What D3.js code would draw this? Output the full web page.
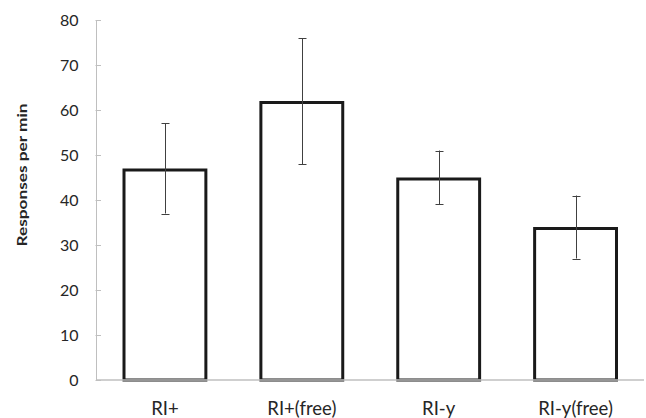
<!DOCTYPE html>
<html><head><meta charset="utf-8">
<script src="https://d3js.org/d3.v7.min.js"></script>
<style>body{margin:0;background:#fff}svg{display:block}</style>
</head><body>
<script>
const categories = ["RI+", "RI+(free)", "RI-y", "RI-y(free)"];
const values = [47, 62, 45, 34];
const errors = [10, 14, 6, 7];
const yTicks = [0, 10, 20, 30, 40, 50, 60, 70, 80];

const W = 646, H = 418;
const m = {left: 96.5, right: 2, top: 20, bottom: 38};
const svg = d3.select("body").append("svg").attr("width", W).attr("height", H);
const x = d3.scaleBand().domain(categories).range([m.left, 644]).paddingInner(0.38).paddingOuter(0.19);
const y = d3.scaleLinear().domain([0, 80]).range([380, 20]);
const font = "Lato, sans-serif";

// y axis
const ya = svg.append("g");
ya.append("line").attr("x1", m.left).attr("x2", m.left).attr("y1", y(80)).attr("y2", y(0)).attr("stroke", "#bfbfbf").attr("stroke-width", 1);
ya.selectAll(".t").data(yTicks).join("line").attr("x1", m.left - 1).attr("x2", m.left + 4.5)
  .attr("y1", d => Math.round(y(d)) + 0.5).attr("y2", d => Math.round(y(d)) + 0.5).attr("stroke", "#bfbfbf");
ya.selectAll("text").data(yTicks).join("text").attr("x", 78.5).attr("y", d => y(d)).attr("dy", "0.36em")
  .attr("text-anchor", "end").attr("font-family", font).attr("font-size", 16).attr("fill", "#262626").text(d => d);

// bars
svg.selectAll(".bar").data(values).join("rect")
  .attr("x", (d, i) => x(categories[i]) + 1.5).attr("width", x.bandwidth() - 3)
  .attr("y", d => y(d) + 1.5).attr("height", d => y(0) - y(d) - 1.5)
  .attr("fill", "#fff").attr("stroke", "#1a1a1a").attr("stroke-width", 3);

// x axis
svg.append("line").attr("x1", m.left).attr("x2", 644).attr("y1", 380).attr("y2", 380).attr("stroke", "#bfbfbf").attr("stroke-width", 1.5);
svg.selectAll(".xl").data(categories).join("text").attr("x", d => x(d) + x.bandwidth() / 2).attr("y", 414.5)
  .attr("text-anchor", "middle").attr("font-family", font).attr("font-size", 18.5).attr("fill", "#262626").text(d => d);

// error bars
const eb = svg.append("g").attr("stroke", "#404040").attr("stroke-width", 1);
values.forEach((v, i) => {
  const cx = Math.round(x(categories[i]) + x.bandwidth() / 2) + 0.5;
  eb.append("line").attr("x1", cx).attr("x2", cx).attr("y1", y(v + errors[i])).attr("y2", y(v - errors[i]));
  [v + errors[i], v - errors[i]].forEach(e => {
    eb.append("line").attr("x1", cx - 4).attr("x2", cx + 4).attr("y1", Math.round(y(e)) + 0.5).attr("y2", Math.round(y(e)) + 0.5);
  });
});

// y title
svg.append("text").attr("transform", `translate(26.5,175) rotate(-90)`).attr("text-anchor", "middle")
  .attr("font-family", font).attr("font-weight", "bold").attr("font-size", 14)
  .attr("textLength", 143).attr("lengthAdjust", "spacingAndGlyphs")
  .attr("fill", "#262626").text("Responses per min");
</script>
</body></html>
